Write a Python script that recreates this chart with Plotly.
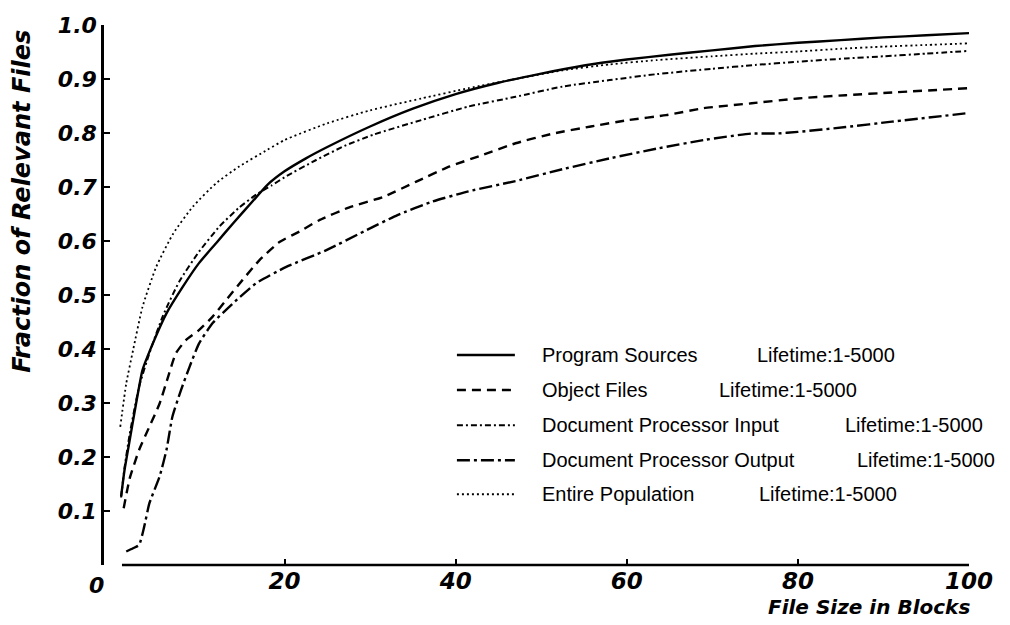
import plotly.graph_objects as go

# ---------------- data ----------------
series_names = ["Program Sources", "Object Files", "Document Processor Input",
                "Document Processor Output", "Entire Population"]
lifetime_label = "Lifetime:1-5000"

ps_x = [0.9, 1.3, 1.9, 2.65, 3.4, 4.6, 6.2, 8.1, 10, 12, 14, 16.3, 18, 20, 22.5, 25, 30, 35, 40,
        45, 50, 55, 60, 65, 70, 75, 80, 85, 90, 95, 100]
ps_y = [0.127, 0.176, 0.231, 0.299, 0.361, 0.41, 0.466, 0.515, 0.559, 0.596, 0.633, 0.674, 0.704,
        0.729, 0.753, 0.774, 0.812, 0.845, 0.872, 0.893, 0.910, 0.925, 0.936, 0.945, 0.953, 0.961,
        0.967, 0.972, 0.977, 0.981, 0.985]

of_x = [1.2, 1.9, 3.0, 4.2, 5.4, 6.4, 7.3, 8.5, 10, 11.6, 13.2, 15.1, 17.1, 19.4, 21.8, 24, 27.5,
        31.6, 35.4, 39.3, 43.1, 47, 51.4, 55.8, 60.2, 64.6, 69, 74.6, 80, 85.6, 91, 100]
of_y = [0.105, 0.16, 0.213, 0.256, 0.299, 0.349, 0.392, 0.417, 0.435, 0.46, 0.491, 0.528, 0.565,
        0.598, 0.618, 0.638, 0.662, 0.682, 0.71, 0.738, 0.759, 0.781, 0.799, 0.812, 0.824, 0.833,
        0.846, 0.855, 0.864, 0.870, 0.875, 0.883]

dpi_x = [0.9, 1.3, 1.9, 3.0, 4.2, 5.8, 7.7, 10, 12.4, 14.7, 16.7, 18.5, 20, 23.7, 27, 30.4, 36,
         41.5, 47, 52.5, 58, 63.5, 70, 75, 80, 85.6, 90, 95, 100]
dpi_y = [0.125, 0.18, 0.242, 0.33, 0.392, 0.462, 0.525, 0.58, 0.627, 0.662, 0.686, 0.703, 0.718,
         0.750, 0.776, 0.797, 0.824, 0.849, 0.867, 0.886, 0.898, 0.909, 0.919, 0.926, 0.932,
         0.938, 0.942, 0.947, 0.952]

dpo_x = [1.5, 2.3, 3.0, 3.6, 4.2, 5.4, 6.2, 6.9, 7.9, 8.9, 10, 11.6, 14, 16.7, 20.2, 24.9, 29.3,
         33.2, 37.1, 41.5, 47, 52.5, 58, 63.5, 69, 74.6, 77.4, 80, 85.6, 91, 100]
dpo_y = [0.025, 0.031, 0.037, 0.071, 0.114, 0.164, 0.213, 0.275, 0.324, 0.367, 0.41, 0.448, 0.485,
         0.522, 0.552, 0.583, 0.618, 0.648, 0.672, 0.692, 0.711, 0.733, 0.753, 0.771, 0.787, 0.799,
         0.799, 0.802, 0.811, 0.821, 0.837]

ep_x = [0.8, 1.5, 2.3, 3.4, 5, 7, 9.3, 12, 14.7, 18, 20, 25, 30, 36, 41.5, 47, 52.5, 58, 63.5,
        70, 75, 80, 85, 90, 95, 100]
ep_y = [0.256, 0.336, 0.398, 0.478, 0.552, 0.614, 0.664, 0.707, 0.738, 0.769, 0.787, 0.818, 0.842,
        0.864, 0.883, 0.900, 0.916, 0.927, 0.935, 0.942, 0.947, 0.951, 0.956, 0.960, 0.963, 0.966]

x_tick_vals = [20, 40, 60, 80, 100]
x_tick_text = ["20", "40", "60", "80", "100"]
y_tick_vals = [0.1, 0.2, 0.3, 0.4, 0.5, 0.6, 0.7, 0.8, 0.9, 1.0]
y_tick_text = ["0.1", "0.2", "0.3", "0.4", "0.5", "0.6", "0.7", "0.8", "0.9", "1.0"]

x_title = "File Size in Blocks"
y_title = "Fraction of Relevant Files"

# ---------------- styles ----------------
dashes = ["solid", "9px,6px", "6px,3px,2px,3px", "13px,4px,3px,4px", "2px,3px"]
widths = [2.4, 2.4, 2.0, 2.4, 1.8]
xs = [ps_x, of_x, dpi_x, dpo_x, ep_x]
ys = [ps_y, of_y, dpi_y, dpo_y, ep_y]

BOLD_IT = "DejaVu Sans"
fig = go.Figure()
for name, x, y, d, w in zip(series_names, xs, ys, dashes, widths):
    fig.add_trace(go.Scatter(x=x, y=y, mode="lines", name=name,
                             line=dict(color="black", width=w, dash=d, shape="spline", smoothing=0.5),
                             showlegend=False))

# legend built from shapes + annotations
row_y = [0.389, 0.324, 0.259, 0.194, 0.131]
life_x = [0.7526, 0.7087, 0.854, 0.868, 0.755]
shapes = []
annotations = []
for name, ry, lx, d, w in zip(series_names, row_y, life_x, dashes, widths):
    shapes.append(dict(type="line", xref="paper", yref="paper", x0=0.408, x1=0.475, y0=ry, y1=ry,
                       line=dict(color="black", width=w, dash=d)))
    annotations.append(dict(xref="paper", yref="paper", x=0.504, y=ry, text=name, showarrow=False,
                            xanchor="left", yanchor="middle",
                            font=dict(family="Liberation Sans", size=20, color="black")))
    annotations.append(dict(xref="paper", yref="paper", x=lx, y=ry, text=lifetime_label,
                            showarrow=False, xanchor="left", yanchor="middle",
                            font=dict(family="Liberation Sans", size=20, color="black")))

# x-axis baseline (starts a little right of the y-axis, as in the original)
shapes.append(dict(type="line", xref="x", yref="paper", x0=1, x1=100, y0=0, y1=0,
                   line=dict(color="black", width=2.5)))

# "0" origin label
annotations.append(dict(xref="paper", yref="paper", x=0.002, y=0, text="<b><i>0</i></b>",
                        showarrow=False, xanchor="right", yanchor="top", yshift=-6,
                        font=dict(family=BOLD_IT, size=22, color="black")))
# axis titles
annotations.append(dict(xref="paper", yref="paper", x=1.004, y=0, text="<b><i>" + x_title + "</i></b>",
                        showarrow=False, xanchor="right", yanchor="top", yshift=-28,
                        font=dict(family=BOLD_IT, size=20, color="black")))
annotations.append(dict(xref="paper", yref="paper", x=-0.095, y=0.674, text="<b><i>" + y_title + "</i></b>",
                        showarrow=False, xanchor="center", yanchor="middle", textangle=-90,
                        font=dict(family=BOLD_IT, size=24, color="black")))

fig.update_layout(
    width=1010, height=625,
    margin=dict(l=104, r=41, t=25, b=60),
    paper_bgcolor="white", plot_bgcolor="white",
    shapes=shapes, annotations=annotations,
    xaxis=dict(range=[-1.1, 100], showgrid=False, zeroline=False, showline=False,
               tickmode="array", tickvals=x_tick_vals,
               ticktext=["<b><i>" + t + "</i></b>" for t in x_tick_text],
               ticks="inside", ticklen=6, tickwidth=2, tickcolor="black",
               tickfont=dict(family=BOLD_IT, size=23, color="black")),
    yaxis=dict(range=[0, 1.0], showgrid=False, zeroline=False, showline=True,
               linecolor="black", linewidth=2.5,
               tickmode="array", tickvals=y_tick_vals,
               ticktext=["<b><i>" + t + "</i></b>" for t in y_tick_text],
               ticks="inside", ticklen=6, tickwidth=2, tickcolor="black",
               tickfont=dict(family=BOLD_IT, size=22, color="black")),
)

fig.write_html("out.html")
